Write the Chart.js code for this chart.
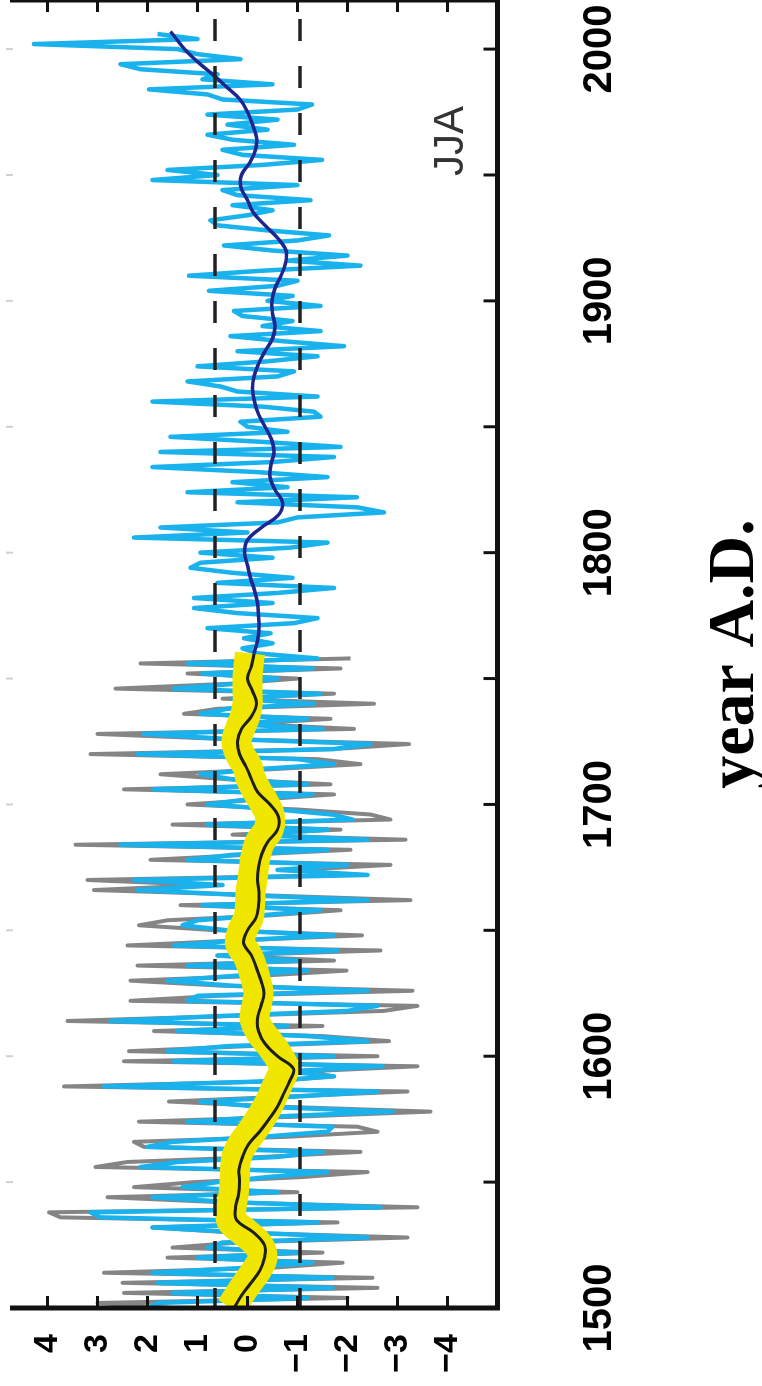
<!DOCTYPE html>
<html>
<head>
<meta charset="utf-8">
<title>JJA</title>
<script src="https://cdn.jsdelivr.net/npm/chart.js@4.4.1/dist/chart.umd.min.js"></script>
<style>
	html, body { margin: 0; padding: 0; background: #fff; overflow: hidden; }
	/* the figure is drawn landscape and turned a quarter turn, like the source image */
	#wrap {
		position: absolute; left: 0; top: 1386px;
		width: 1386px; height: 762px;
		transform-origin: 0 0; transform: rotate(-90deg);
	}
</style>
</head>
<body>
<div id="wrap"><canvas id="jjaChart" width="1386" height="762"></canvas></div>
<script>
// ---- data ----
const yearLabels = [1500, 1600, 1700, 1800, 1900, 2000];
const valueLabels = [4, 3, 2, 1, 0, -1, -2, -3, -4];
const refLines = [0.65, -1.05];

// annual series, sampled every 2 years
const annualStep = 2;
const grayStart = 1500;
const grayValues = [
	1.5, 3.0, -2.0, 2.47, -2.6, 2.5, -2.5, 2.87, -0.5, -1.9,
	1.6, -1.5, 1.5, 0.2, -3.2, 0.3, 1.9, -1.8, 3.74, 3.97,
	-3.4, 0.5, 2.8, -1.0, 2.27, 1.07, -1.1, -2.4, 3.04, 2.4,
	-0.3, -2.26, 2.07, 2.27, -0.8, -2.6, -2.2, 2.17, -1.0, -3.66,
	-0.6, 1.57, -0.8, -3.2, 3.67, -0.5, -1.7, -1.2, -3.4, 2.47,
	-2.6, 2.37, 0.0, -2.83, -1.5, 1.87, -1.5, 3.6, 0.3, -2.73,
	-3.4, 2.34, 0.6, -3.3, 0.5, 2.34, -0.3, -1.98, 2.2, -1.73,
	0.6, -2.66, 2.4, 0.2, -2.29, 0.6, 2.17, 1.6, -0.5, -1.86,
	1.34, -3.26, -0.2, 3.07, 0.8, 3.2, -2.0, -1.0, -2.86, 1.94,
	0.0, -2.06, 3.44, -3.16, 0.3, -1.86, 1.5, -2.86, -2.46, -1.0,
	1.2, -0.3, -1.73, 2.47, -1.66, 0.4, 1.74, -0.5, -2.26, -1.4,
	3.14, -1.73, -3.23, 0.5, 3.0, -2.13, 0.0, -1.66, 1.27, 0.6,
	-2.53, 0.5, -1.73, 2.64, 0.3, -1.0, 1.2, -1.86, 2.14, -2.06
];
const blueStart = 1500;
const blueValues = [
	2.0, 1.8, -1.2, 1.5, -1.7, 1.8, -1.7, 1.9, 0.0, -1.3,
	1.0, -1.0, 0.8, 0.5, -2.4, 0.1, 1.9, -1.4, 2.95, 3.14,
	-2.66, 0.3, 1.9, -0.6, 1.3, 0.6, -0.4, -1.6, 2.14, 1.4,
	-0.6, -1.5, 2.0, 1.5, -0.3, -1.6, -1.7, 1.2, -0.5, -2.9,
	-0.2, 0.94, -1.0, -2.6, 2.87, -0.3, -1.73, -0.8, -2.7, 1.47,
	-1.73, 1.6, 0.4, -2.4, -1.2, 1.4, -0.8, 2.74, 0.5, -2.0,
	-2.6, 1.2, 1.0, -2.4, 0.3, 1.6, 0.2, -1.2, 1.2, -1.0,
	0.6, -1.8, 1.47, 0.2, -1.73, 0.4, 1.3, 1.0, -0.3, -1.46,
	0.9, -2.4, 0.1, 2.2, 0.5, 2.27, -2.4, -0.6, -2.0, 1.2,
	0.3, -1.6, 2.54, -2.4, 0.0, -1.6, 0.8, -2.1, -1.7, -0.6,
	0.8, 0.0, -1.3, 1.87, -1.2, 0.3, 0.94, -0.2, -1.73, -1.0,
	2.2, -1.73, -2.46, 0.4, 2.07, -1.5, 0.3, -1.2, 0.94, 0.4,
	-1.33, 0.3, -1.46, 1.47, 0.2, -0.6, 0.9, -1.3, 1.2, -1.4,
	// 1760 onwards
	-0.2, 0.1, -0.5, 0.07, -0.46, 0.8, -0.93, -1.4, 0.2, 1.07,
	-0.5, 1.07, -0.6, -1.73, 0.6, -0.9, 0.3, 1.14, 0.94, -0.5,
	0.94, -0.86, -1.6, 2.27, 0.0, 1.74, -0.6, -1.0, -2.73, -2.2,
	0.2, -2.19, 1.2, -0.8, 0.3, -1.6, -0.2, 1.9, -0.5, -1.73,
	1.74, -1.86, -0.3, 1.54, -0.8, 0.0, 0.14, -1.46, -1.33, -0.3,
	1.9, -1.4, 0.2, 0.54, 1.2, -0.6, -0.93, 1.0, -0.4, -1.4,
	0.2, -1.93, -0.7, 0.34, -1.46, -0.3, -0.9, 0.1, 0.27, -1.46,
	-0.4, -0.9, 0.77, -0.6, -1.0, 1.17, -0.3, -2.26, -0.8, -2.0,
	-0.5, 0.47, -1.0, -1.63, -0.4, 0.6, 0.74, 0.0, -0.5, 0.3,
	-1.26, 0.2, 0.5, -1.0, 1.9, 0.6, 1.6, -0.3, -1.49, 0.1,
	0.5, -0.93, 0.3, 0.8, -0.4, 0.4, -0.6, 0.8, -1.0, -1.29,
	0.5, 0.8, 1.97, -0.5, 0.9, 0.6, 2.14, 2.54, 0.14, 1.0,
	1.4, 4.27, 1.0, 1.8
];

// smoothed curves, every 5 years
const smoothYears = [
	1500, 1505, 1510, 1515, 1520, 1525, 1530, 1535, 1540, 1545,
	1550, 1555, 1560, 1565, 1570, 1575, 1580, 1585, 1590, 1595,
	1600, 1605, 1610, 1615, 1620, 1625, 1630, 1635, 1640, 1645,
	1650, 1655, 1660, 1665, 1670, 1675, 1680, 1685, 1690, 1695,
	1700, 1705, 1710, 1715, 1720, 1725, 1730, 1735, 1740, 1745,
	1750, 1755, 1760
];
const blackSmooth = [
	0.27, 0.12, -0.07, -0.25, -0.34, -0.34, -0.12, 0.22, 0.24, 0.18,
	0.16, 0.17, 0.1, -0.02, -0.24, -0.43, -0.6, -0.72, -0.84, -0.92,
	-0.6, -0.35, -0.22, -0.2, -0.27, -0.33, -0.27, -0.18, -0.08, 0.08,
	0.0, -0.17, -0.22, -0.23, -0.2, -0.22, -0.28, -0.4, -0.6, -0.62,
	-0.45, -0.2, -0.08, 0.03, 0.16, 0.2, 0.12, -0.08, -0.18, -0.1,
	0.0, -0.08, -0.13
];
const yellowBand = [
	0.33, 0.17, 0.0, -0.18, -0.3, -0.22, 0.05, 0.33, 0.32, 0.28,
	0.26, 0.25, 0.22, 0.1, -0.08, -0.25, -0.4, -0.52, -0.63, -0.73,
	-0.62, -0.44, -0.25, -0.14, -0.18, -0.22, -0.17, -0.1, 0.0, 0.15,
	0.1, -0.02, -0.05, -0.06, -0.1, -0.13, -0.17, -0.25, -0.42, -0.45,
	-0.35, -0.2, -0.07, 0.0, 0.15, 0.22, 0.15, 0.05, 0.0, 0.0,
	0.0, -0.02, -0.05
];
const navyYears = [
	1760, 1765, 1770, 1775, 1780, 1785, 1790, 1795, 1800, 1805,
	1810, 1815, 1820, 1825, 1830, 1835, 1840, 1845, 1850, 1855,
	1860, 1865, 1870, 1875, 1880, 1885, 1890, 1895, 1900, 1905,
	1910, 1915, 1920, 1925, 1930, 1935, 1940, 1945, 1950, 1955,
	1960, 1965, 1970, 1975, 1980, 1985, 1990, 1995, 2000, 2005,
	2007
];
const navySmooth = [
	-0.13, -0.2, -0.23, -0.22, -0.2, -0.14, -0.06, 0.0, 0.06, 0.0,
	-0.28, -0.62, -0.7, -0.55, -0.45, -0.47, -0.53, -0.48, -0.35, -0.22,
	-0.14, -0.1, -0.13, -0.22, -0.35, -0.5, -0.55, -0.5, -0.49, -0.55,
	-0.67, -0.76, -0.77, -0.6, -0.35, -0.12, 0.0, 0.13, 0.12, -0.05,
	-0.16, -0.18, -0.1, 0.0, 0.15, 0.42, 0.7, 1.0, 1.26, 1.46,
	1.54
];

const xMin = 1500, xMax = 2019.5;
const yMin = -5, yMax = 4.75;

// helpers to turn the arrays into {x, y} points
function annualPoints(start, values) {
	return values.map((v, i) => ({ x: start + i * annualStep, y: v }));
}
function pairPoints(xs, ys) {
	return ys.map((v, i) => ({ x: xs[i], y: v }));
}

// fixed axis box, no extra label padding around the plot
function fixBox(size) {
	return (s) => {
		if (s.isHorizontal()) s.height = size; else s.width = size;
		s.paddingLeft = 0;
		s.paddingRight = 0;
		s.paddingTop = 0;
		s.paddingBottom = 0;
	};
}

// frame, inward ticks and the JJA tag
const framePlugin = {
	id: "frame",
	afterDatasetsDraw(chart) {
		const { ctx, chartArea: a, scales } = chart;
		const x = scales.x, y = scales.y;
		ctx.save();
		ctx.strokeStyle = "#111";
		ctx.lineCap = "butt";

		// ticks every 50 years
		ctx.lineWidth = 3;
		for (let yr = 1500; yr <= 2000; yr += 50) {
			const px = x.getPixelForValue(yr);
			ctx.beginPath();
			ctx.moveTo(px, a.bottom);
			ctx.lineTo(px, a.bottom - 14);
			ctx.stroke();
		}
		// faint ticks on the opposite side
		ctx.save();
		ctx.strokeStyle = "#d0d0d0";
		ctx.lineWidth = 2;
		for (let yr = 1550; yr <= 2000; yr += 50) {
			const px = x.getPixelForValue(yr);
			ctx.beginPath();
			ctx.moveTo(px, a.top - 4);
			ctx.lineTo(px, a.top + 3);
			ctx.stroke();
		}
		ctx.restore();

		// value ticks, both sides
		valueLabels.forEach((v) => {
			const py = y.getPixelForValue(v);
			ctx.beginPath();
			ctx.moveTo(a.left, py);
			ctx.lineTo(a.left + 12, py);
			ctx.moveTo(a.right, py);
			ctx.lineTo(a.right - 12, py);
			ctx.stroke();
		});

		// axis lines
		ctx.lineWidth = 5;
		ctx.beginPath();
		ctx.moveTo(a.left, a.top);
		ctx.lineTo(a.left, a.bottom);
		ctx.lineTo(a.right, a.bottom);
		ctx.lineTo(a.right, a.top);
		ctx.stroke();

		// season tag
		ctx.fillStyle = "#333";
		ctx.font = '42px "Liberation Sans", Arial, sans-serif';
		ctx.textAlign = "center";
		ctx.textBaseline = "alphabetic";
		ctx.fillText("JJA", x.getPixelForValue(1963.5), y.getPixelForValue(-4.3));
		ctx.restore();
	},
};

document.addEventListener("DOMContentLoaded", function() {
	const chartEl = document.getElementById("jjaChart");
	const ctx = chartEl.getContext("2d");

	const datasets = [
		// dashed reference lines on top
		...refLines.map((v) => ({
			data: [{ x: xMin, y: v }, { x: xMax, y: v }],
			borderColor: "#222",
			borderWidth: 3.5,
			borderDash: [22, 25],
			borderDashOffset: 2,
			pointRadius: 0,
			order: 0,
		})),
		{
			label: "smooth (after 1760)",
			data: pairPoints(navyYears, navySmooth),
			borderColor: "#1c2590",
			borderWidth: 3.5,
			tension: 0.4,
			pointRadius: 0,
			order: 1,
		},
		{
			label: "smooth",
			data: pairPoints(smoothYears, blackSmooth),
			borderColor: "#1e1e1e",
			borderWidth: 3,
			tension: 0.4,
			pointRadius: 0,
			order: 2,
		},
		{
			label: "band",
			data: pairPoints(smoothYears, yellowBand),
			borderColor: "#f0e600",
			borderWidth: 30,
			borderJoinStyle: "round",
			tension: 0.4,
			pointRadius: 0,
			order: 3,
		},
		{
			label: "annual (blue)",
			data: annualPoints(blueStart, blueValues),
			borderColor: "#1ab2ec",
			borderWidth: 4.5,
			borderJoinStyle: "round",
			pointRadius: 0,
			order: 4,
		},
		{
			label: "annual (gray)",
			data: annualPoints(grayStart, grayValues),
			borderColor: "#858585",
			borderWidth: 4,
			borderJoinStyle: "round",
			pointRadius: 0,
			order: 5,
		},
	];

	new Chart(ctx, {
		type: "line",
		data: { datasets: datasets },
		options: {
			responsive: false,
			devicePixelRatio: 1,
			animation: false,
			events: [],
			layout: { padding: { top: 10, right: 0, left: 0, bottom: 0 } },
			plugins: {
				legend: { display: false },
				tooltip: { enabled: false },
			},
			scales: {
				x: {
					type: "linear",
					min: xMin,
					max: xMax,
					afterBuildTicks: (s) => { s.ticks = yearLabels.map((v) => ({ value: v })); },
					afterFit: fixBox(264.5),
					grid: { display: false, drawTicks: false },
					border: { display: false },
					ticks: {
						autoSkip: false,
						maxRotation: 0,
						padding: 78,
						color: "#000",
						font: { family: '"Liberation Sans", Arial, sans-serif', size: 40, weight: "bold" },
						callback: (v) => String(v),
					},
					title: {
						display: true,
						text: "year A.D.",
						color: "#000",
						padding: 0,
						font: { family: '"Liberation Serif", "Times New Roman", serif', size: 66, weight: "bold", lineHeight: 0.8 },
					},
				},
				y: {
					type: "linear",
					min: yMin,
					max: yMax,
					afterBuildTicks: (s) => { s.ticks = valueLabels.map((v) => ({ value: v })); },
					afterFit: fixBox(78),
					grid: { display: false, drawTicks: false },
					border: { display: false },
					ticks: {
						padding: 26,
						color: "#000",
						font: { family: '"Liberation Sans", Arial, sans-serif', size: 34, weight: "bold" },
						callback: (v) => (v < 0 ? "\u2212" + Math.abs(v) : String(v)),
					},
				},
			},
		},
		plugins: [framePlugin],
	});
});
</script>
</body>
</html>
